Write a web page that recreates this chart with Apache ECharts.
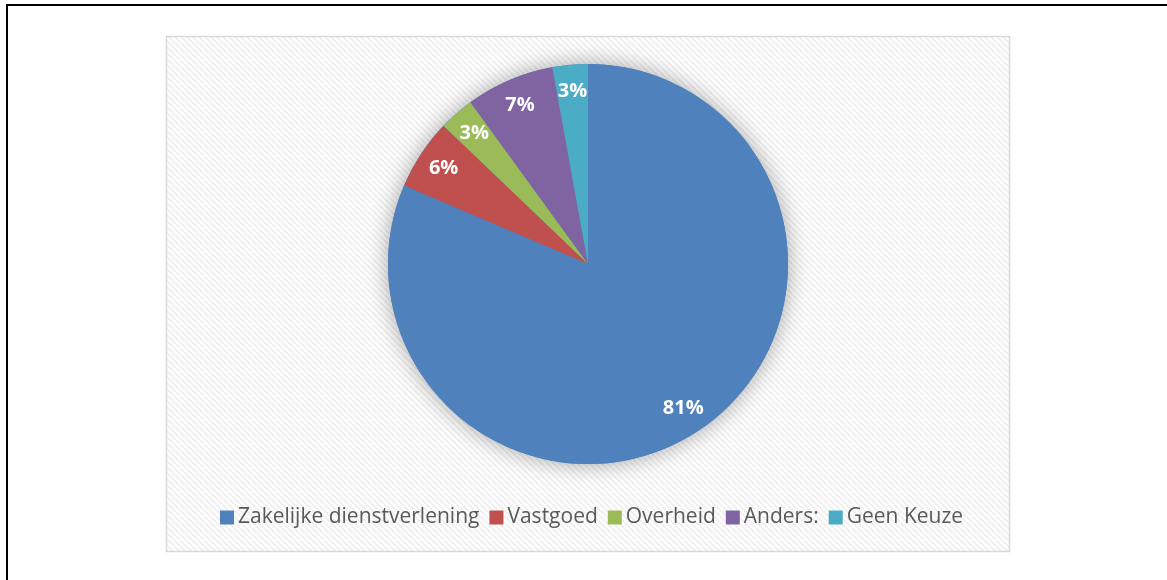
<!DOCTYPE html>
<html>
<head>
<meta charset="utf-8">
<script src="https://cdn.jsdelivr.net/npm/echarts@6/dist/echarts.min.js"></script>
<style>
html,body{margin:0;padding:0;background:#fff;}
#c{width:1167px;height:580px;}
</style>
</head>
<body>
<div id="c"></div>
<script>
const categories = ['Zakelijke dienstverlening', 'Vastgoed', 'Overheid', 'Anders:', 'Geen Keuze'];
const values = [57, 4, 2, 5, 2];
const colors = ['#4f81bd', '#c0504d', '#9bbb59', '#8064a2', '#4bacc6'];

// hatch pattern canvas
const pc = document.createElement('canvas');
pc.width = 6; pc.height = 6;
const g = pc.getContext('2d');
g.fillStyle = '#ffffff';
g.fillRect(0, 0, 6, 6);
g.strokeStyle = '#f0f0f0';
g.lineWidth = 2;
for (let k = -6; k <= 12; k += 6) {
  g.beginPath();
  g.moveTo(k, 0);
  g.lineTo(k + 6, 6);
  g.stroke();
}

const data = categories.map((n, i) => ({ name: n, value: values[i], itemStyle: { color: colors[i] } }));
const chart = echarts.init(document.getElementById('c'), null, { renderer: 'canvas' });
chart.setOption({
  animation: false,
  graphic: [
    { type: 'rect', z: -10, shape: { x: 7, y: 5, width: 1200, height: 620 }, style: { fill: 'none', stroke: '#000', lineWidth: 2 } },
    { type: 'rect', z: -9, shape: { x: 166.5, y: 36.5, width: 843, height: 515 }, style: { fill: { image: pc, repeat: 'repeat' }, stroke: '#d9d9d9', lineWidth: 1.5 } }
  ],
  legend: {
    data: categories,
    top: 502,
    left: 215,
    itemWidth: 14,
    itemHeight: 14,
    itemGap: 10,
    icon: 'rect',
    textStyle: { fontFamily: 'Open Sans', fontSize: 21, color: '#595959', padding: [0, 0, 0, -1] }
  },
  series: [
    {
      type: 'pie', name: 'shadow', silent: true, center: [588, 264], radius: 200, z: 1,
      label: { show: false }, labelLine: { show: false },
      data: [{ value: 1, name: '__shadow', itemStyle: { color: '#4f81bd', shadowBlur: 22, shadowColor: 'rgba(0,0,0,0.35)', shadowOffsetX: 0, shadowOffsetY: 0 } }],
      legendHoverLink: false
    },
    {
      type: 'pie', name: 'main', center: [588, 264], radius: 200, startAngle: 90, clockwise: true, z: 2,
      avoidLabelOverlap: false,
      label: { show: false }, labelLine: { show: false },
      itemStyle: { borderWidth: 0 },
      emphasis: { disabled: true },
      data: data
    },
    {
      type: 'pie', name: 'labels', silent: true, center: [588, 264], radius: [140, 200], startAngle: 90, clockwise: true, z: 3,
      avoidLabelOverlap: false,
      itemStyle: { color: 'rgba(0,0,0,0)', borderWidth: 0 },
      emphasis: { disabled: true },
      label: {
        show: true, position: 'inside', color: '#fff', fontFamily: 'Open Sans', fontWeight: 'bold', fontSize: 20,
        formatter: p => Math.round(p.percent) + '%'
      },
      labelLine: { show: false },
      data: categories.map((n, i) => ({ name: n, value: values[i] }))
    }
  ]
});
</script>
</body>
</html>
